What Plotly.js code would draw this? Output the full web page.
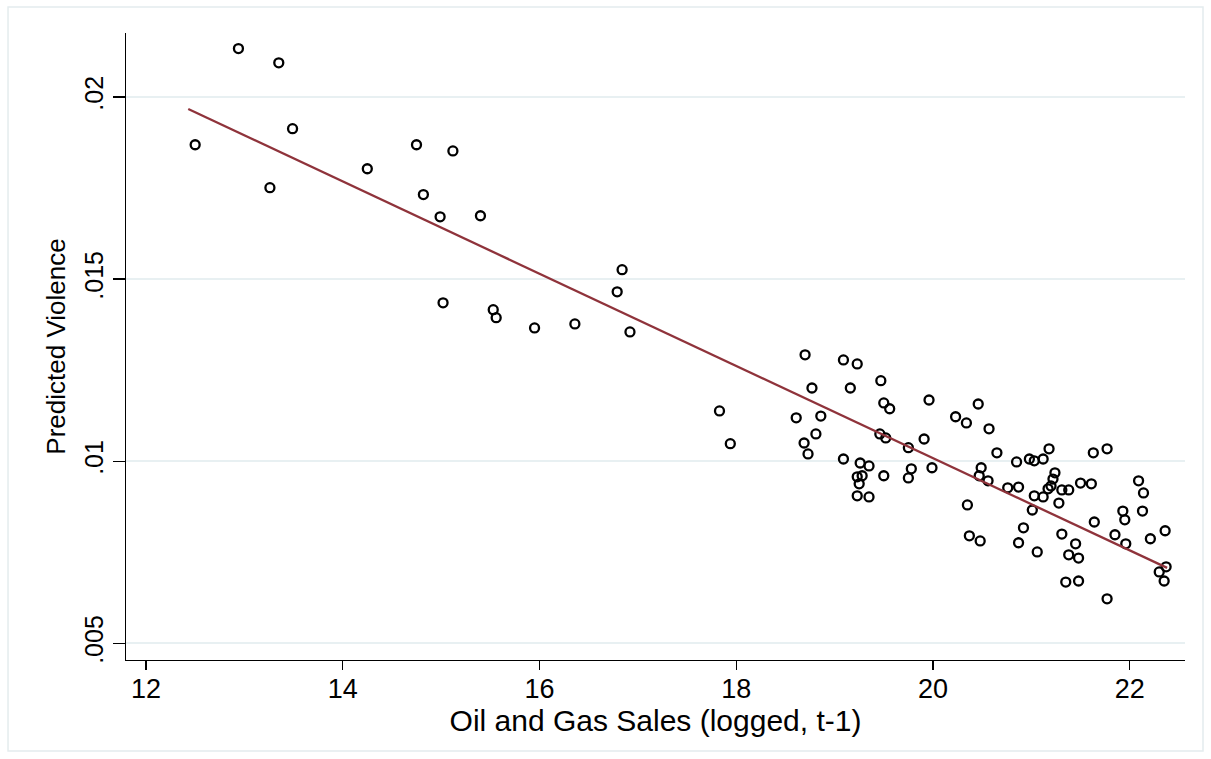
<!DOCTYPE html>
<html>
<head>
<meta charset="utf-8">
<script src="https://cdn.plot.ly/plotly-3.0.1.min.js"></script>
<style>html,body{margin:0;padding:0;background:#fff;}#chart{width:1211px;height:759px;}</style>
</head>
<body>
<div id="chart"></div>
<script>
// Oil and gas sales (logged, t-1)
const salesX = [
  12.50, 12.94, 13.35, 13.49, 13.26, 14.25, 14.75, 15.12, 14.82, 14.99,
  15.40, 15.02, 15.53, 15.56, 15.95, 16.36, 16.84, 16.79, 16.92, 17.83,
  17.94, 18.70, 19.09, 19.23, 19.47, 18.77, 19.16, 19.96, 19.50, 19.56,
  20.23, 18.61, 18.86, 18.81, 18.69, 18.73, 19.46, 19.52, 19.91, 19.75,
  19.09, 19.26, 19.35, 19.78, 19.99, 19.23, 19.28, 19.50, 19.75, 19.25,
  19.23, 19.35, 20.46, 20.34, 20.57, 20.65, 20.85, 20.98, 21.03, 21.12,
  21.18, 21.63, 21.77, 20.49, 20.47, 20.56, 21.24, 21.22, 21.20, 21.17,
  21.31, 21.38, 21.50, 21.61, 20.76, 20.87, 21.03, 21.12, 21.28, 21.01,
  20.35, 22.09, 22.14, 21.93, 21.95, 22.13, 21.64, 20.92, 20.37, 20.48,
  20.87, 21.31, 21.45, 21.85, 21.96, 22.21, 22.36, 21.06, 21.38, 21.48,
  22.37, 22.30, 22.35, 21.35, 21.48, 21.77
];
// Predicted violence
const violenceY = [
  0.01869, 0.02133, 0.02094, 0.01913, 0.01751, 0.01803, 0.01869, 0.01852, 0.01732, 0.01671,
  0.01674, 0.01435, 0.01416, 0.01394, 0.01366, 0.01377, 0.01526, 0.01465, 0.01355, 0.01138,
  0.01048, 0.01292, 0.01278, 0.01267, 0.01221, 0.01201, 0.01201, 0.01168, 0.01160, 0.01144,
  0.01122, 0.01119, 0.01124, 0.01075, 0.01050, 0.01020, 0.01075, 0.01064, 0.01061, 0.01037,
  0.01006, 0.00995, 0.00987, 0.00979, 0.00982, 0.00957, 0.00960, 0.00960, 0.00954, 0.00938,
  0.00905, 0.00902, 0.01157, 0.01105, 0.01089, 0.01023, 0.00998, 0.01006, 0.01001, 0.01006,
  0.01034, 0.01023, 0.01034, 0.00982, 0.00960, 0.00946, 0.00968, 0.00951, 0.00932, 0.00924,
  0.00921, 0.00921, 0.00940, 0.00938, 0.00927, 0.00929, 0.00905, 0.00902, 0.00885, 0.00866,
  0.00880, 0.00946, 0.00913, 0.00863, 0.00839, 0.00863, 0.00833, 0.00817, 0.00795, 0.00781,
  0.00776, 0.00800, 0.00773, 0.00798, 0.00773, 0.00787, 0.00809, 0.00751, 0.00743, 0.00734,
  0.00710, 0.00696, 0.00671, 0.00668, 0.00671, 0.00622
];
// Linear fit line end points
const fitX = [12.43, 22.38];
const fitY = [0.01967, 0.00707];

const xTickVals = [12, 14, 16, 18, 20, 22];
const yTickVals = [0.005, 0.01, 0.015, 0.02];
const yTickText = ['.005', '.01', '.015', '.02'];

const font = 'Arial, "Liberation Sans", Helvetica, sans-serif';

const traces = [
  {
    x: salesX, y: violenceY, type: 'scatter', mode: 'markers',
    marker: {symbol: 'circle-open', size: 9, color: '#000', line: {width: 2.3, color: '#000'}},
    hoverinfo: 'x+y', showlegend: false
  },
  {
    x: fitX, y: fitY, type: 'scatter', mode: 'lines',
    line: {color: '#8f333b', width: 2.3}, showlegend: false
  }
];

const layout = {
  width: 1211, height: 759,
  margin: {l: 126, r: 26, t: 33, b: 99},
  paper_bgcolor: '#ffffff', plot_bgcolor: '#ffffff',
  font: {family: font, color: '#000'},
  showlegend: false,
  xaxis: {
    range: [11.797, 22.562], tickvals: xTickVals, ticks: 'outside', ticklen: 9, tickwidth: 1.3, tickcolor: '#000',
    ticklabelstandoff: -5,
    showgrid: false, zeroline: false, showline: true, linecolor: '#000', linewidth: 1.3,
    tickfont: {size: 27, family: font, color: '#000'},
    title: {text: 'Oil and Gas Sales (logged, t-1)', font: {size: 30, family: font, color: '#000'}, standoff: 0}
  },
  yaxis: {
    range: [0.004541, 0.021758], tickvals: yTickVals, ticktext: yTickText, tickangle: -90,
    ticks: 'outside', ticklen: 12, tickwidth: 1.3, tickcolor: '#000',
    showgrid: true, gridcolor: '#e8f0f2', gridwidth: 2, zeroline: false,
    showline: true, linecolor: '#000', linewidth: 1.3,
    tickfont: {size: 25, family: font, color: '#000'},
    title: {text: 'Predicted Violence', font: {size: 26, family: font, color: '#000'}, standoff: 6}
  },
  shapes: [
    {type: 'rect', xref: 'paper', yref: 'paper', x0: -0.1114, x1: 1.017, y0: -0.145, y1: 1.0415,
     line: {color: '#e4ecee', width: 1.5}, fillcolor: 'rgba(0,0,0,0)', layer: 'below'}
  ]
};

Plotly.newPlot('chart', traces, layout, {displayModeBar: false, staticPlot: true});
</script>
</body>
</html>
